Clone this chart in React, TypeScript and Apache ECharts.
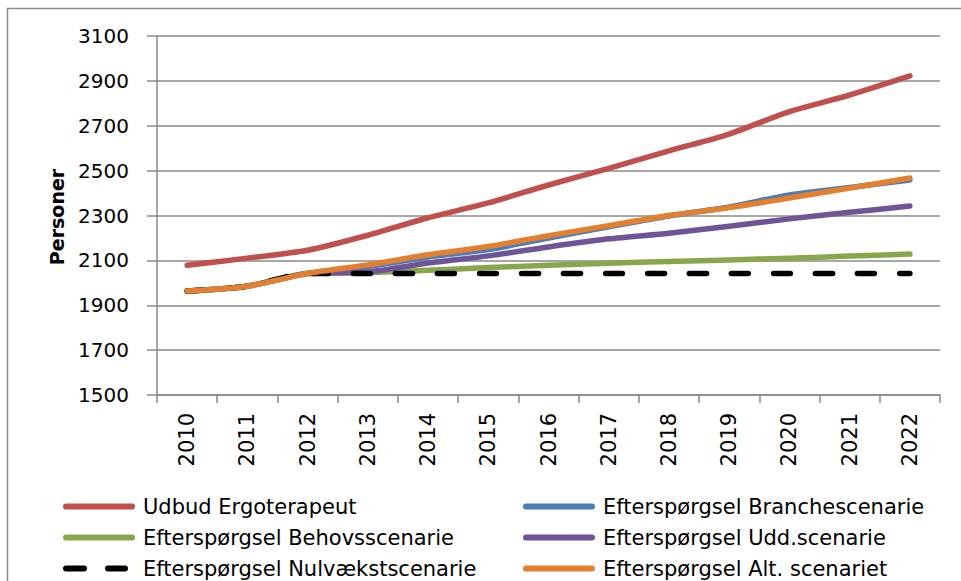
import React, { useEffect, useRef } from "react";
import * as echarts from "echarts";

const years = ["2010", "2011", "2012", "2013", "2014", "2015", "2016", "2017", "2018", "2019", "2020", "2021", "2022"];
const udbud = [2078, 2110, 2145, 2212, 2290, 2356, 2436, 2510, 2588, 2663, 2763, 2837, 2922];
const branche = [1963, 1985, 2042, 2072, 2115, 2148, 2200, 2250, 2298, 2338, 2392, 2425, 2458];
const behov = [1963, 1985, 2042, 2045, 2056, 2068, 2078, 2087, 2095, 2102, 2110, 2119, 2128];
const udd = [1963, 1985, 2042, 2048, 2088, 2120, 2160, 2196, 2221, 2252, 2285, 2314, 2342];
const nul = [1963, 1985, 2042, 2042, 2042, 2042, 2042, 2042, 2042, 2042, 2042, 2042, 2042];
const alt = [1963, 1985, 2042, 2080, 2125, 2162, 2210, 2255, 2300, 2335, 2378, 2422, 2467];
const yTitle = "Personer";

const names = {
  udbud: "Udbud Ergoterapeut",
  branche: "Efterspørgsel Branchescenarie",
  behov: "Efterspørgsel Behovsscenarie",
  udd: "Efterspørgsel Udd.scenarie",
  nul: "Efterspørgsel Nulvækstscenarie",
  alt: "Efterspørgsel Alt. scenariet",
};

const FONT = "DejaVu Sans";
const SOLID_ICON = "path://M3,0 H69 A3,3 0 0 1 69,6 H3 A3,3 0 0 1 3,0 Z";
const DASH_ICON =
  "path://M3,0 H21 A3,3 0 0 1 21,6 H3 A3,3 0 0 1 3,0 Z M45,0 H62 A3,3 0 0 1 62,6 H45 A3,3 0 0 1 45,0 Z M72,3 L72,3 Z";

export default function App() {
  const ref = useRef<HTMLDivElement>(null);
  useEffect(() => {
    if (!ref.current) return;
    const chart = echarts.init(ref.current, undefined, { renderer: "svg" });
    const mk = (name: string, data: number[], color: string, extra: any = {}) => ({
      name,
      type: "line",
      data,
      symbol: "none",
      smooth: 0.25,
      color,
      lineStyle: { color, width: 5.5, cap: "round", join: "round", ...extra },
      emphasis: { disabled: true },
    });
    const legendCommon = {
      orient: "vertical",
      top: 496,
      itemWidth: 72,
      itemHeight: 6,
      itemGap: 10,
      padding: 0,
      selectedMode: false,
      symbolKeepAspect: false,
      textStyle: { fontFamily: FONT, fontSize: 21, lineHeight: 20, color: "#000", padding: [0, 0, 0, 3] },
    };
    const item = (n: string, icon = SOLID_ICON) => ({ name: n, icon });
    chart.setOption({
      animation: false,
      backgroundColor: "#fff",
      graphic: [
        {
          type: "rect",
          shape: { x: 7.5, y: 8.5, width: 2000, height: 2000 },
          style: { fill: "none", stroke: "#8c8c8c", lineWidth: 1.5 },
          silent: true,
        },
        {
          type: "text",
          x: 57,
          y: 217,
          rotation: Math.PI / 2,
          silent: true,
          style: {
            text: yTitle,
            fill: "#000",
            font: `bold 19px "${FONT}"`,
            align: "center",
            verticalAlign: "middle",
          },
        },
      ],
      grid: { left: 157, right: 21, top: 36, bottom: 186, containLabel: false },
      legend: [
        { ...legendCommon, left: 63, data: [item(names.udbud), item(names.behov), item(names.nul, DASH_ICON)] },
        { ...legendCommon, left: 523, data: [item(names.branche), item(names.udd), item(names.alt)] },
      ],
      xAxis: {
        type: "category",
        data: years,
        boundaryGap: true,
        axisLine: { lineStyle: { color: "#8a8a8a", width: 1.5 } },
        axisTick: { show: true, length: 8, alignWithLabel: false, lineStyle: { color: "#8a8a8a", width: 1.5 } },
        axisLabel: { rotate: 90, margin: 18, color: "#000", fontFamily: FONT, fontSize: 21, interval: 0 },
        splitLine: { show: false },
      },
      yAxis: {
        type: "value",
        min: 1500,
        max: 3100,
        interval: 200,
        axisLine: { show: true, lineStyle: { color: "#8a8a8a", width: 1.5 } },
        axisTick: { show: true, length: 10, lineStyle: { color: "#8a8a8a", width: 1.5 } },
        axisLabel: {
          margin: 28,
          color: "#000",
          fontFamily: FONT,
          fontSize: 20,
          formatter: (v: number) => String(v),
        },
        splitLine: { show: true, lineStyle: { color: "#8a8a8a", width: 1.5 } },
      },
      series: [
        mk(names.udbud, udbud, "#C0504D"),
        mk(names.branche, branche, "#4A7EBB"),
        mk(names.behov, behov, "#8AA64C"),
        mk(names.udd, udd, "#6F5597"),
        mk(names.nul, nul, "#000000", { type: [17, 25] }),
        mk(names.alt, alt, "#E2802F"),
      ],
    });
    return () => chart.dispose();
  }, []);
  return <div ref={ref} style={{ position: "absolute", left: 0, top: 0, width: 961, height: 581 }} />;
}
